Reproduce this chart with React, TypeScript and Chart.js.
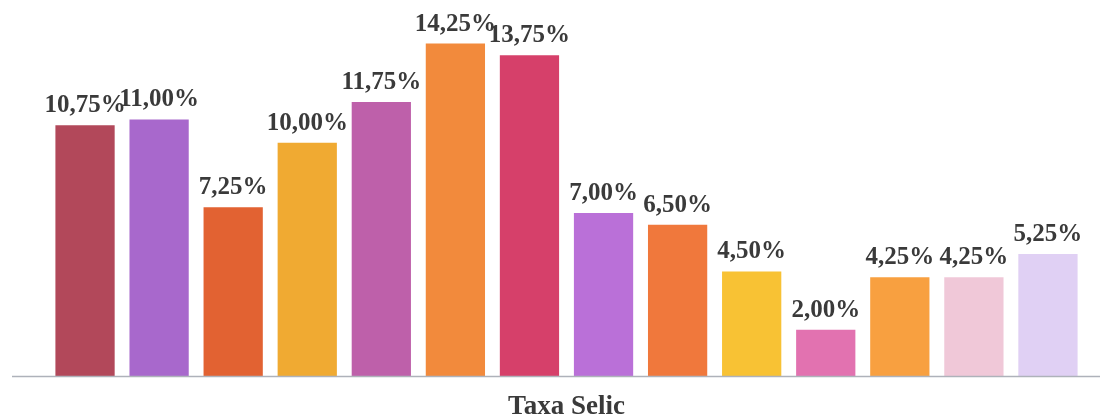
import React, { useEffect, useRef } from "react";
import { Chart, registerables } from "chart.js";

Chart.register(...registerables);

const categories = ["1", "2", "3", "4", "5", "6", "7", "8", "9", "10", "11", "12", "13", "14"];
const selicValues = [10.75, 11.0, 7.25, 10.0, 11.75, 14.25, 13.75, 7.0, 6.5, 4.5, 2.0, 4.25, 4.25, 5.25];
const barColors = [
  "#b2485a", "#a868cc", "#e26232", "#f0aa32", "#be60aa", "#f28a3c", "#d6406a",
  "#ba70d8", "#f0783c", "#f8c234", "#e272b0", "#f8a040", "#f0c8d8", "#e0d0f4",
];
const axisTitle = "Taxa Selic";

const fmt = (v: number) => v.toFixed(2).replace(".", ",") + "%";

export default function App() {
  const ref = useRef<HTMLCanvasElement>(null);
  useEffect(() => {
    if (!ref.current) return;
    const labelPlugin = {
      id: "labels",
      afterDatasetsDraw(chart: any) {
        const ctx = chart.ctx;
        const meta = chart.getDatasetMeta(0);
        ctx.save();
        ctx.font = "bold 25px 'Liberation Serif', 'Times New Roman', serif";
        ctx.fillStyle = "#3a3a3a";
        ctx.textAlign = "center";
        ctx.textBaseline = "alphabetic";
        meta.data.forEach((bar: any, i: number) => {
          ctx.fillText(fmt(selicValues[i]), bar.x, bar.y - 13);
        });
        ctx.restore();
      },
      afterDraw(chart: any) {
        const ctx = chart.ctx;
        const y = chart.chartArea.bottom;
        ctx.save();
        ctx.strokeStyle = "#aeb2ba";
        ctx.lineWidth = 1.5;
        ctx.beginPath();
        ctx.moveTo(12, y);
        ctx.lineTo(1100, y);
        ctx.stroke();
        ctx.restore();
      },
    };
    const chart = new Chart(ref.current, {
      type: "bar",
      data: {
        labels: categories,
        datasets: [
          {
            data: selicValues,
            backgroundColor: barColors,
            barPercentage: 0.8,
            categoryPercentage: 1,
          },
        ],
      },
      options: {
        animation: false,
        responsive: false,
        layout: { padding: { left: 48, right: 22, top: 26, bottom: 0 } },
        plugins: { legend: { display: false }, tooltip: { enabled: false } },
        scales: {
          x: {
            grid: { display: false },
            border: { display: false },
            ticks: { display: false },
            title: {
              display: true,
              text: axisTitle,
              color: "#3a3a3a",
              font: { family: "'Liberation Serif', serif", size: 27, weight: "bold" },
              padding: { top: 6, bottom: -6 },
            },
          },
          y: {
            display: false,
            min: 0,
            max: 15,
          },
        },
      },
      plugins: [labelPlugin],
    });
    return () => chart.destroy();
  }, []);
  return (
    <div style={{ position: "absolute", left: 0, top: 0, width: 1107, height: 417, background: "#fff" }}>
      <canvas ref={ref} width={1107} height={417} />
    </div>
  );
}
